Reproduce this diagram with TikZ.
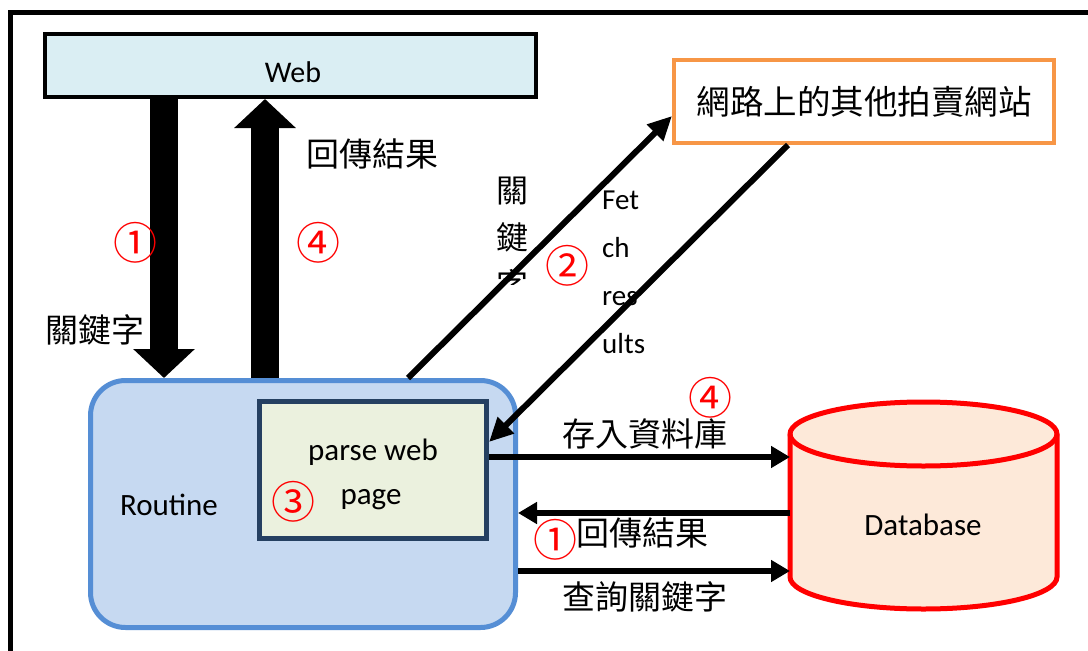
\documentclass[tikz,border=0pt]{standalone}
\usepackage{fontspec}
\setmainfont{Carlito}
\newfontfamily\cjk{Noto Sans CJK TC}
\usetikzlibrary{arrows.meta}
\definecolor{webfill}{HTML}{DAEEF3}
\definecolor{orangeb}{HTML}{F79646}
\definecolor{routfill}{HTML}{C6D9F1}
\definecolor{routdraw}{HTML}{558ED5}
\definecolor{parsefill}{HTML}{EBF1DE}
\definecolor{parsedraw}{HTML}{254061}
\definecolor{dbfill}{HTML}{FDE9D9}
\definecolor{dbdraw}{HTML}{FF0000}
\begin{document}
\begin{tikzpicture}[x=1pt,y=-1pt,
 lbl/.style={font=\fontsize{31}{36}\selectfont, inner sep=0pt},
 cjklbl/.style={font=\cjk\fontsize{33}{36}\selectfont, inner sep=0pt},
 num/.style={font=\cjk\fontsize{44}{46}\selectfont, text=red, inner sep=0pt},
 bigarrow/.style={line width=28pt, -{Triangle[length=29pt,width=60pt]}},
 flatarrow/.style={line width=6.5pt, -{Triangle[length=19pt,width=21pt]}},
 diagarrow/.style={line width=6pt, -{Triangle[length=24pt,width=22pt]}},
]
\useasboundingbox (0,0) rectangle (1088,651);
\fill[white] (0,0) rectangle (1088,651);
\draw[line width=5pt] (10.5,651) -- (10.5,12) -- (1088,12);

% boxes
\node[draw, line width=4pt, fill=webfill, minimum width=491pt, minimum height=63pt, inner sep=0pt] (web) at (290.5,65.5) {};
\node[font=\fontsize{30}{36}\selectfont, inner sep=0pt] (webt) at (293,72) {Web};

\node[draw=orangeb, line width=4pt, fill=white, minimum width=380pt, minimum height=83pt, inner sep=0pt, font=\cjk\fontsize{33.5}{36}\selectfont] (other) at (864,101.5) {網路上的其他拍賣網站};

\node[draw=routdraw, line width=5pt, fill=routfill, rounded corners=35pt, minimum width=425pt, minimum height=247pt, inner sep=0pt] (routine) at (303,504) {};
\node[lbl] (routt) at (169,505) {Routine};

\node[draw=parsedraw, line width=5pt, fill=parsefill, minimum width=227pt, minimum height=137pt, inner sep=0pt] (parse) at (373,470) {};
\node[lbl] (parset1) at (373,452) {parse web};
\node[lbl] (parset2) at (371,500) {page};
\node[num] (n3) at (293,502) {③};

% database cylinder
\filldraw[draw=dbdraw, fill=dbfill, line width=5pt]
  (790,434) -- (790,577) arc (180:0:133.5 and 32) -- (1057,434) arc (0:-180:133.5 and 32) -- cycle;
\draw[draw=dbdraw, line width=5pt] (790,434) arc (180:0:133.5 and 32);
\coordinate (dbw) at (790,500);
\node[lbl] (db) at (923,525) {Database};

% big arrows web <-> routine
\draw[bigarrow] (164,0 |- web.south) -- (164,0 |- routine.north);
\draw[bigarrow] (265,0 |- routine.north) -- (265,0 |- web.south);
\node[cjklbl] (kw1) at (95,330) {關鍵字};
\node[num] (n1a) at (135,243) {①};
\node[num] (n4a) at (318,243) {④};
\node[cjklbl, anchor=west] (ret1) at (306,154) {回傳結果};

% diagonal arrows
\draw[diagarrow] (408,0 |- routine.north) -- (other.west |- 0,116);
\draw[diagarrow] (788,0 |- other.south) -- (parse.east |- 0,442);
\begin{scope}
\clip (480,160) rectangle (545,284);
\node[align=center, inner sep=0pt, font=\cjk\fontsize{32}{47}\selectfont] (kw2) at (512,238) {關\\鍵\\字};
\end{scope}
\node[num] (n2) at (567,266) {②};
\node[anchor=west, align=left, inner sep=0pt, font=\fontsize{29}{48}\selectfont] (fetch) at (602,272) {Fet\\ch\\res\\ults};

% database arrows
\draw[flatarrow] (parse.east |- 0,457) -- (dbw |- 0,457);
\draw[flatarrow] (dbw |- 0,513) -- (routine.east |- 0,513);
\draw[flatarrow] (routine.east |- 0,571) -- (dbw |- 0,571);
\node[num] (n4b) at (710,398) {④};
\node[cjklbl] (store) at (645,434) {存入資料庫};
\node[num] (n1b) at (555,540) {①};
\node[cjklbl] (ret2) at (642,533) {回傳結果};
\node[cjklbl] (query) at (645,597) {查詢關鍵字};
\end{tikzpicture}
\end{document}
